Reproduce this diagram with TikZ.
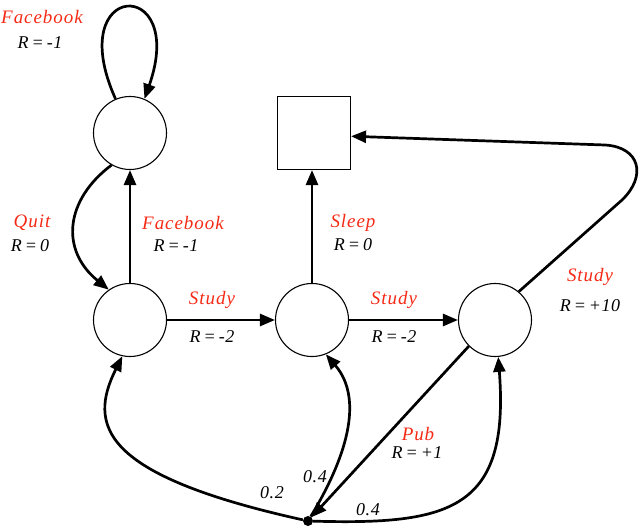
\documentclass[tikz,border=0pt]{standalone}
\usepackage{fontspec}
\setmainfont{Liberation Serif}
\newfontfamily\actfont[LetterSpace=5]{Liberation Serif}
\newfontfamily\rewfont[LetterSpace=3,WordSpace=0.6]{Liberation Serif}
\usetikzlibrary{arrows.meta}
\definecolor{actred}{RGB}{245,42,22}
\begin{document}
\begin{tikzpicture}[x=1pt,y=-1pt,
    state/.style={circle,draw,line width=1.1pt,minimum size=73pt,inner sep=0pt},
    term/.style={rectangle,draw,line width=1.1pt,minimum size=73pt,inner sep=0pt},
    chance/.style={circle,fill,minimum size=10pt,inner sep=0pt},
    edge/.style={line width=2.7pt,-{Triangle[length=15pt,width=12pt]}},
    act/.style={text=actred,font=\actfont\fontsize{19}{21}\selectfont\itshape},
    rew/.style={font=\rewfont\fontsize{18}{20}\selectfont\itshape}]
    \useasboundingbox (0,0) rectangle (640,529);
    \node [state] (fb) at (130,133) {};
    \node [state] (c1) at (130,320) {};
    \node [state] (c2) at (312,320) {};
    \node [state] (c3) at (495,320) {};
    \node [term] (sleep) at (314,133) {};
    \node [chance] (pub) at (308,521) {};
    \draw [edge] (fb.113) .. controls (62,-20) and (188,-25) .. (fb.67);
    \draw [edge] (fb.240) .. controls (65,200) and (60,250) .. (c1.125);
    \draw [edge] (c1.north) -- (fb.south);
    \draw [edge] (c1) -- (c2);
    \draw [edge] (c2.north) -- (c2.north |- sleep.south);
    \draw [edge] (c2) -- (c3);
    \draw [edge] (c3.50) -- (622,200) .. controls (647,176) and (640,147) .. (605,145) -- (sleep.-5);
    \draw [edge] (c3.225) -- (pub);
    \draw [edge] (pub) .. controls (100,475) and (88,425) .. (c1.258);
    \draw [edge] (pub) .. controls (345,460) and (365,400) .. (c2.292);
    \draw [edge] (pub) .. controls (450,525) and (510,510) .. (c3.275);
    \node [act] (fbloopa) at (42,17) {Facebook};
    \node [rew] (fbloopr) at (40,43) {R = -1};
    \node [act] (quita) at (32,223) {Quit};
    \node [rew] (quitr) at (30,246) {R = 0};
    \node [act] (fba) at (183,223) {Facebook};
    \node [rew] (fbr) at (176,246) {R = -1};
    \node [act] (study1a) at (212,300) {Study};
    \node [rew] (study1r) at (212,337) {R = -2};
    \node [act] (sleepa) at (353,223) {Sleep};
    \node [rew] (sleepr) at (353,245) {R = 0};
    \node [act] (study2a) at (394,300) {Study};
    \node [rew] (study2r) at (394,337) {R = -2};
    \node [act] (study3a) at (590,277) {Study};
    \node [rew] (study3r) at (590,306) {R = +10};
    \node [act] (puba) at (418,434) {Pub};
    \node [rew] (pubr) at (417,453) {R = +1};
    \node [rew] (pc1) at (272,493) {0.2};
    \node [rew] (pc2) at (315,477) {0.4};
    \node [rew] (pc3) at (368,510) {0.4};
\end{tikzpicture}
\end{document}
